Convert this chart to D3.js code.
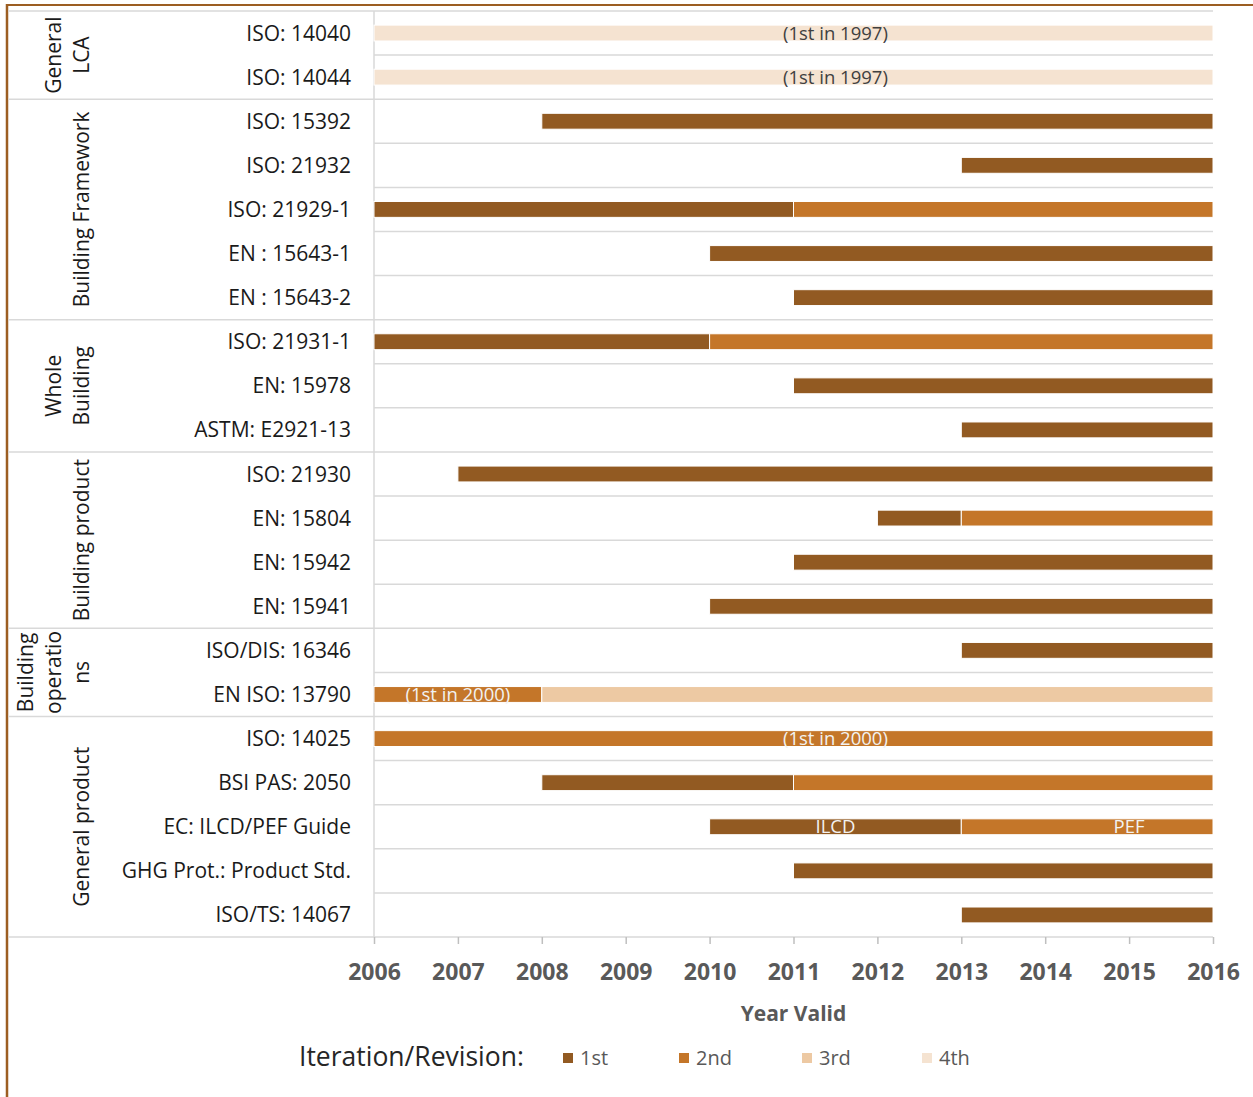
<!DOCTYPE html>
<html>
<head>
<meta charset="utf-8">
<script src="https://cdn.jsdelivr.net/npm/d3@7"></script>
<style>
  body { margin: 0; background: #fff; }
  svg { display: block; font-family: "Open Sans", sans-serif; }
</style>
</head>
<body>
<div id="chart"></div>
<script>
var categories = [
  "ISO: 14040", "ISO: 14044",
  "ISO: 15392", "ISO: 21932", "ISO: 21929-1", "EN : 15643-1", "EN : 15643-2",
  "ISO: 21931-1", "EN: 15978", "ASTM: E2921-13",
  "ISO: 21930", "EN: 15804", "EN: 15942", "EN: 15941",
  "ISO/DIS: 16346", "EN ISO: 13790",
  "ISO: 14025", "BSI PAS: 2050", "EC: ILCD/PEF Guide", "GHG Prot.: Product Std.", "ISO/TS: 14067"
];
// first year shown for each standard
var startYear = [2006, 2006, 2008, 2013, 2006, 2010, 2011, 2006, 2011, 2013, 2007, 2012, 2011, 2010, 2013, 2006, 2006, 2008, 2010, 2011, 2013];
// years spent in each iteration / revision
var rev1st = [0, 0, 8, 3, 5, 6, 5, 4, 5, 3, 9, 1, 5, 6, 3, 0, 0, 3, 3, 5, 3];
var rev2nd = [0, 0, 0, 0, 5, 0, 0, 6, 0, 0, 0, 3, 0, 0, 0, 2, 10, 5, 3, 0, 0];
var rev3rd = [0, 0, 0, 0, 0, 0, 0, 0, 0, 0, 0, 0, 0, 0, 0, 8, 0, 0, 0, 0, 0];
var rev4th = [10, 10, 0, 0, 0, 0, 0, 0, 0, 0, 0, 0, 0, 0, 0, 0, 0, 0, 0, 0, 0];

var seriesNames = ["1st", "2nd", "3rd", "4th"];
var colors = ["#925a22", "#c47629", "#edc9a3", "#f5e3d1"];
var years = [2006, 2007, 2008, 2009, 2010, 2011, 2012, 2013, 2014, 2015, 2016];

var groups = [
  { lines: ["General", "LCA"], first: 0, last: 1 },
  { lines: ["Building Framework"], first: 2, last: 6 },
  { lines: ["Whole", "Building"], first: 7, last: 9 },
  { lines: ["Building product"], first: 10, last: 13 },
  { lines: ["Building", "operatio", "ns"], first: 14, last: 15 },
  { lines: ["General product"], first: 16, last: 20 }
];

var barLabels = [
  { row: 0, text: "(1st in 1997)", year: 2011.5, color: "#404040" },
  { row: 1, text: "(1st in 1997)", year: 2011.5, color: "#404040" },
  { row: 15, text: "(1st in 2000)", year: 2007, color: "#f2f2f2" },
  { row: 16, text: "(1st in 2000)", year: 2011.5, color: "#f2f2f2" },
  { row: 18, text: "ILCD", year: 2011.5, color: "#f2f2f2" },
  { row: 18, text: "PEF", year: 2015, color: "#f2f2f2" }
];

var w = 1253, h = 1097;
var svg = d3.select("#chart").append("svg").attr("width", w).attr("height", h);

var x = d3.scaleLinear().domain([2006, 2016]).range([374, 1213]);
var y = d3.scaleBand().domain(categories).range([11, 937]);
var barH = y.bandwidth() * 0.36;

var table = categories.map(function (c, i) {
  return { cat: c, start: startYear[i], "1st": rev1st[i], "2nd": rev2nd[i], "3rd": rev3rd[i], "4th": rev4th[i] };
});
var stacked = d3.stack().keys(seriesNames)
  .offset(function (series, order) {
    d3.stackOffsetNone(series, order);
    series.forEach(function (s) {
      s.forEach(function (p, j) { p[0] += table[j].start; p[1] += table[j].start; });
    });
  })(table);

// frame
svg.append("line").attr("x1", 7).attr("x2", w).attr("y1", 5).attr("y2", 5)
  .attr("stroke", "#9c5e22").attr("stroke-width", 2);
svg.append("line").attr("x1", 7).attr("x2", 7).attr("y1", 4).attr("y2", h)
  .attr("stroke", "#9c5e22").attr("stroke-width", 2.5);

// grid lines between rows
var groupEnds = groups.map(function (g) { return g.last; });
svg.append("g").selectAll("line")
  .data(categories)
  .enter().append("line")
  .attr("x1", function (d, i) { return groupEnds.indexOf(i) >= 0 ? 8 : x(2006); })
  .attr("x2", x(2016))
  .attr("y1", function (d) { return y(d) + y.bandwidth(); })
  .attr("y2", function (d) { return y(d) + y.bandwidth(); })
  .attr("stroke", "#d9d9d9").attr("stroke-width", 1.5);
svg.append("line").attr("x1", 8).attr("x2", x(2016))
  .attr("y1", y.range()[0]).attr("y2", y.range()[0])
  .attr("stroke", "#d9d9d9").attr("stroke-width", 1.5);
svg.append("line").attr("x1", x(2006)).attr("x2", x(2006))
  .attr("y1", y.range()[0]).attr("y2", y.range()[1])
  .attr("stroke", "#d9d9d9").attr("stroke-width", 1.5);

// bars
svg.append("g").selectAll("g")
  .data(stacked)
  .enter().append("g")
  .attr("fill", function (d, i) { return colors[i]; })
  .selectAll("rect")
  .data(function (d) { return d.filter(function (p) { return p[1] > p[0]; }); })
  .enter().append("rect")
  .attr("x", function (d) { return x(d[0]); })
  .attr("width", function (d) { return x(d[1]) - x(d[0]); })
  .attr("y", function (d) { return y(d.data.cat) + (y.bandwidth() - barH) / 2; })
  .attr("height", barH)
  .attr("stroke", "#fff").attr("stroke-width", 1);

// bar labels
svg.append("g").selectAll("text")
  .data(barLabels)
  .enter().append("text")
  .attr("x", function (d) { return x(d.year); })
  .attr("y", function (d) { return y(categories[d.row]) + y.bandwidth() / 2 + 6.5; })
  .attr("text-anchor", "middle")
  .style("font-size", "18.5px")
  .style("fill", function (d) { return d.color; })
  .text(function (d) { return d.text; });

// row labels
svg.append("g").selectAll("text")
  .data(categories)
  .enter().append("text")
  .attr("x", 351)
  .attr("y", function (d) { return y(d) + y.bandwidth() / 2 + 7.5; })
  .attr("text-anchor", "end")
  .style("font-size", "21px")
  .style("fill", "#1a1a1a")
  .text(function (d) { return d; });

// group labels
groups.forEach(function (g) {
  var cy = (y(categories[g.first]) + y(categories[g.last]) + y.bandwidth()) / 2;
  var n = g.lines.length;
  g.lines.forEach(function (line, k) {
    var bx = 89 - (n - 1 - k) * 28;
    svg.append("text")
      .attr("transform", "translate(" + bx + "," + cy + ") rotate(-90)")
      .attr("text-anchor", "middle")
      .style("font-size", "21px")
      .style("fill", "#1a1a1a")
      .text(line);
  });
});

// x axis
var axis = svg.append("g")
  .attr("transform", "translate(0," + y.range()[1] + ")")
  .call(d3.axisBottom(x).tickValues(years).tickFormat(d3.format("d")).tickSize(7).tickPadding(20));
axis.select(".domain").remove();
axis.selectAll(".tick line").attr("stroke", "#bfbfbf").attr("stroke-width", 1.5);
axis.selectAll(".tick text")
  .style("font-family", "'Open Sans', sans-serif")
  .style("font-size", "23px")
  .style("font-weight", "bold")
  .style("fill", "#595959");

svg.append("text")
  .attr("x", (x(2006) + x(2016)) / 2)
  .attr("y", 1021)
  .attr("text-anchor", "middle")
  .style("font-size", "21px")
  .style("font-weight", "bold")
  .style("fill", "#595959")
  .text("Year Valid");

// legend
svg.append("text")
  .attr("x", 299).attr("y", 1066)
  .style("font-size", "26.5px")
  .style("fill", "#262626")
  .text("Iteration/Revision:");
var legendX = [563, 679, 802, 922];
var legend = svg.append("g").selectAll("g")
  .data(seriesNames)
  .enter().append("g")
  .attr("transform", function (d, i) { return "translate(" + legendX[i] + ",1053)"; });
legend.append("rect").attr("width", 10).attr("height", 10)
  .attr("fill", function (d, i) { return colors[i]; });
legend.append("text").attr("x", 17).attr("y", 12)
  .style("font-size", "20px")
  .style("fill", "#595959")
  .text(function (d) { return d; });
</script>
</body>
</html>
